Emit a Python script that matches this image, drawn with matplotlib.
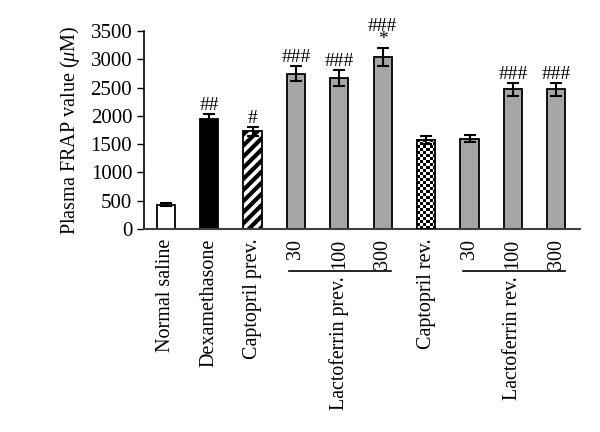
import numpy as np
import matplotlib
matplotlib.use("Agg")
import matplotlib.pyplot as plt
import matplotlib.transforms as mtransforms

plt.rcParams["font.family"] = ["Liberation Serif", "DejaVu Serif"]
plt.rcParams["hatch.linewidth"] = 3.0
plt.rcParams["mathtext.fontset"] = "custom"
plt.rcParams["mathtext.it"] = "Liberation Serif:italic"
plt.rcParams["mathtext.rm"] = "Liberation Serif"

#data
tick_labels = ["Normal saline", "Dexamethasone", "Captopril prev.", "30", "100", "300",
               "Captopril rev.", "30", "100", "300"]
frap = [430, 1940, 1730, 2750, 2670, 3040, 1580, 1600, 2470, 2470]
err = [30, 90, 80, 140, 140, 160, 70, 70, 120, 120]
marks = ["", "##", "#", "###", "###", "###\n*", "", "", "###", "###"]
groups = [("Lactoferrin prev.", 3, 5), ("Lactoferrin rev.", 7, 9)]

fills = ["white", "black", "white", "#a6a6a6", "#a6a6a6", "#a6a6a6", "white",
         "#a6a6a6", "#a6a6a6", "#a6a6a6"]
hatches = [None, None, "///", None, None, None, None, None, None, None]

fig = plt.figure(figsize=(6, 4.32), dpi=100)
ax = fig.add_axes([0.24, 0.47, 0.727, 0.458])

x = np.arange(len(frap))
bars = ax.bar(x, frap, width=0.42, color=fills, edgecolor="black", linewidth=1.3, zorder=2)
for b, h in zip(bars, hatches):
    if h:
        b.set_hatch(h)

#checkerboard fill for captopril rev.
cb = bars[6]
checker = (np.indices((30, 6)).sum(axis=0) % 2).astype(float)
im = ax.imshow(checker, cmap="gray", interpolation="nearest", aspect="auto",
               extent=(cb.get_x(), cb.get_x() + cb.get_width(), 0, cb.get_height()), zorder=2)
im.set_clip_path(cb)
ax.bar(x[6], frap[6], width=0.42, fill=False, edgecolor="black", linewidth=1.3, zorder=3)

ax.errorbar(x, frap, yerr=err, fmt="none", ecolor="black", elinewidth=1.5, capsize=4,
            capthick=1.5, zorder=4)

for xi, v, e, m in zip(x, frap, err, marks):
    if m:
        ax.text(xi, v + e, m, ha="center", va="bottom", fontsize=14, linespacing=0.7)

ax.set_xlim(-0.5, 9.55)
ax.set_ylim(0, 3500)
ax.set_yticks(range(0, 3501, 500))
ax.tick_params(axis="y", labelsize=15, direction="out", length=5, width=1)
ax.set_xticks(x)
ax.set_xticklabels(tick_labels, rotation=90, fontsize=14.5, va="top")
ax.tick_params(axis="x", length=0, pad=7)
ax.spines["top"].set_visible(False)
ax.spines["right"].set_visible(False)
ax.spines["left"].set_linewidth(1.2)
ax.spines["bottom"].set_linewidth(1.5)
ax.spines["bottom"].set_color("#404040")
ax.set_ylabel(r"Plasma FRAP value ($\mu$M)", fontsize=14.5, labelpad=6)

#group lines and labels under the dose ticks
trans = mtransforms.blended_transform_factory(ax.transData, ax.transAxes)
for name, i0, i1 in groups:
    ax.plot([i0 - 0.15, i1 + 0.2], [-0.212, -0.212], color="black", lw=1.2,
            transform=trans, clip_on=False)
    ax.text((i0 + i1) / 2, -0.24, name, rotation=90, ha="center", va="top",
            fontsize=14.3, transform=trans)

fig.savefig("out.png", dpi=100)
